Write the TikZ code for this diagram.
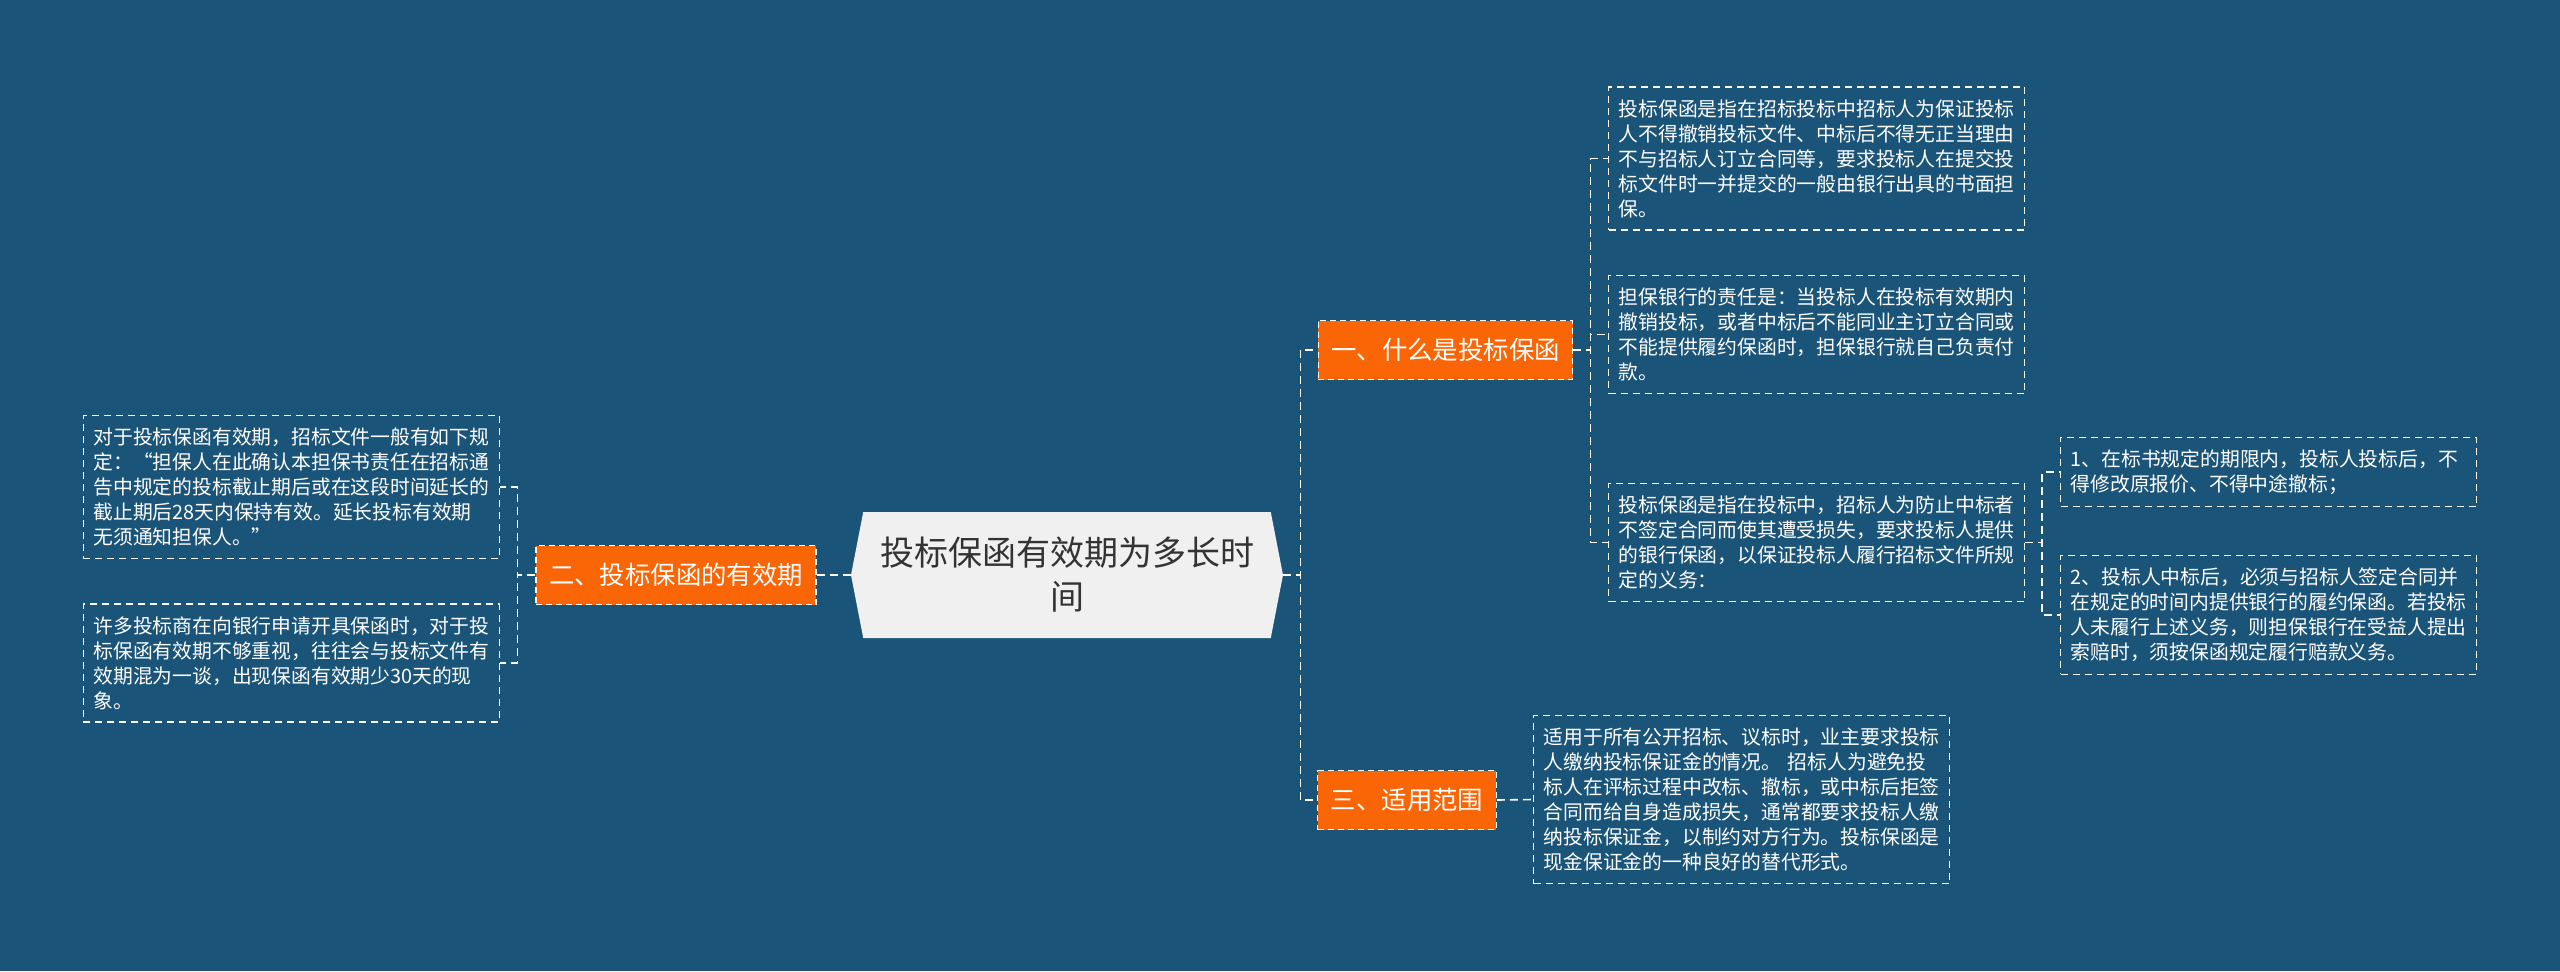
\documentclass[tikz,border=0pt]{standalone}
\usepackage{fontspec}
\setmainfont{Noto Sans CJK SC}
\usepackage{xcolor}
\usepackage{tikz}
\usetikzlibrary{shapes.symbols}
\definecolor{canvas}{HTML}{1B5479}
\definecolor{branchfill}{HTML}{FA6605}
\definecolor{rootfill}{HTML}{F0F0F0}
\definecolor{roottext}{HTML}{333333}

\begin{document}
\begin{tikzpicture}[x=0.5pt, y=-0.5pt,
    rootnode/.style={
        signal, signal to=west and east, signal pointer angle=158,
        fill=rootfill, text=roottext, align=center,
        font=\fontsize{17}{22}\selectfont,
        minimum width=216pt, minimum height=63pt, inner sep=0pt,
    },
    branchnode/.style={
        rectangle, fill=branchfill, text=white,
        draw=white, line width=0.6pt, dash pattern=on 3pt off 2pt,
        font=\fontsize{12.7}{15}\selectfont,
        minimum height=29.5pt, inner xsep=6.5pt, inner ysep=0pt,
    },
    leafnode/.style={
        rectangle, draw=white, line width=0.6pt, dash pattern=on 3.5pt off 2.5pt,
        text=white, align=left, text width=198pt,
        font=\fontsize{9.9}{12.5}\selectfont,
        inner xsep=5pt, inner ysep=6.2pt,
    },
    link/.style={
        draw=white, line width=0.8pt, dash pattern=on 4pt off 2.5pt,
    },
]

% ── Canvas ─────────────────────────────────────────────────────────────
\fill[canvas] (0,0) rectangle (2560,971);
\useasboundingbox (0,0) rectangle (2560,971);

% ── Root ───────────────────────────────────────────────────────────────
\node[rootnode] (root) at (1067,575) {投标保函有效期为多长时\\间};

% ── Branches ───────────────────────────────────────────────────────────
\node[branchnode] (what)  at (1445.5,350) {一、什么是投标保函};
\node[branchnode] (valid) at (676,575)    {二、投标保函的有效期};
\node[branchnode] (scope) at (1407,800)   {三、适用范围};

% ── Leaves: 什么是投标保函 ─────────────────────────────────────────────
\node[leafnode, anchor=west] (defn) at (1608,158.5) {
    投标保函是指在招标投标中招标人为保证投标\\
    人不得撤销投标文件、中标后不得无正当理由\\
    不与招标人订立合同等，要求投标人在提交投\\
    标文件时一并提交的一般由银行出具的书面担\\
    保。};
\node[leafnode, anchor=west] (duty) at (1608,334.5) {
    担保银行的责任是：当投标人在投标有效期内\\
    撤销投标，或者中标后不能同业主订立合同或\\
    不能提供履约保函时，担保银行就自己负责付\\
    款。};
\node[leafnode, anchor=west] (aim) at (1608,542.5) {
    投标保函是指在投标中，招标人为防止中标者\\
    不签定合同而使其遭受损失，要求投标人提供\\
    的银行保函，以保证投标人履行招标文件所规\\
    定的义务：};
\node[leafnode, anchor=west] (aimone) at (2060,472) {
    1、在标书规定的期限内，投标人投标后，不\\
    得修改原报价、不得中途撤标；};
\node[leafnode, anchor=west] (aimtwo) at (2060,615) {
    2、投标人中标后，必须与招标人签定合同并\\
    在规定的时间内提供银行的履约保函。若投标\\
    人未履行上述义务，则担保银行在受益人提出\\
    索赔时，须按保函规定履行赔款义务。};

% ── Leaves: 投标保函的有效期 ───────────────────────────────────────────
\node[leafnode, anchor=east] (rule) at (500,487) {
    对于投标保函有效期，招标文件一般有如下规\\
    定：“担保人在此确认本担保书责任在招标通\\
    告中规定的投标截止期后或在这段时间延长的\\
    截止期后28天内保持有效。延长投标有效期\\
    无须通知担保人。”};
\node[leafnode, anchor=east] (habit) at (500,663) {
    许多投标商在向银行申请开具保函时，对于投\\
    标保函有效期不够重视，往往会与投标文件有\\
    效期混为一谈，出现保函有效期少30天的现\\
    象。};

% ── Leaf: 适用范围 ─────────────────────────────────────────────────────
\node[leafnode, anchor=west] (usage) at (1533,799.5) {
    适用于所有公开招标、议标时，业主要求投标\\
    人缴纳投标保证金的情况。 招标人为避免投\\
    标人在评标过程中改标、撤标，或中标后拒签\\
    合同而给自身造成损失，通常都要求投标人缴\\
    纳投标保证金，以制约对方行为。投标保函是\\
    现金保证金的一种良好的替代形式。};

% ── Links ──────────────────────────────────────────────────────────────
\draw[link] (root.east) -- ++(17,0) |- (what.west);
\draw[link] (root.east) -- ++(17,0) |- (scope.west);
\draw[link] (root.west) -- (valid.east);
\draw[link] (what.east) -- ++(17,0) |- (defn.west);
\draw[link] (what.east) -- ++(17,0) |- (duty.west);
\draw[link] (what.east) -- ++(17,0) |- (aim.west);
\draw[link] (aim.east) -- ++(17,0) |- (aimone.west);
\draw[link] (aim.east) -- ++(17,0) |- (aimtwo.west);
\draw[link] (valid.west) -- ++(-18,0) |- (rule.east);
\draw[link] (valid.west) -- ++(-18,0) |- (habit.east);
\draw[link] (scope.east) -- (usage.west);

\end{tikzpicture}
\end{document}
